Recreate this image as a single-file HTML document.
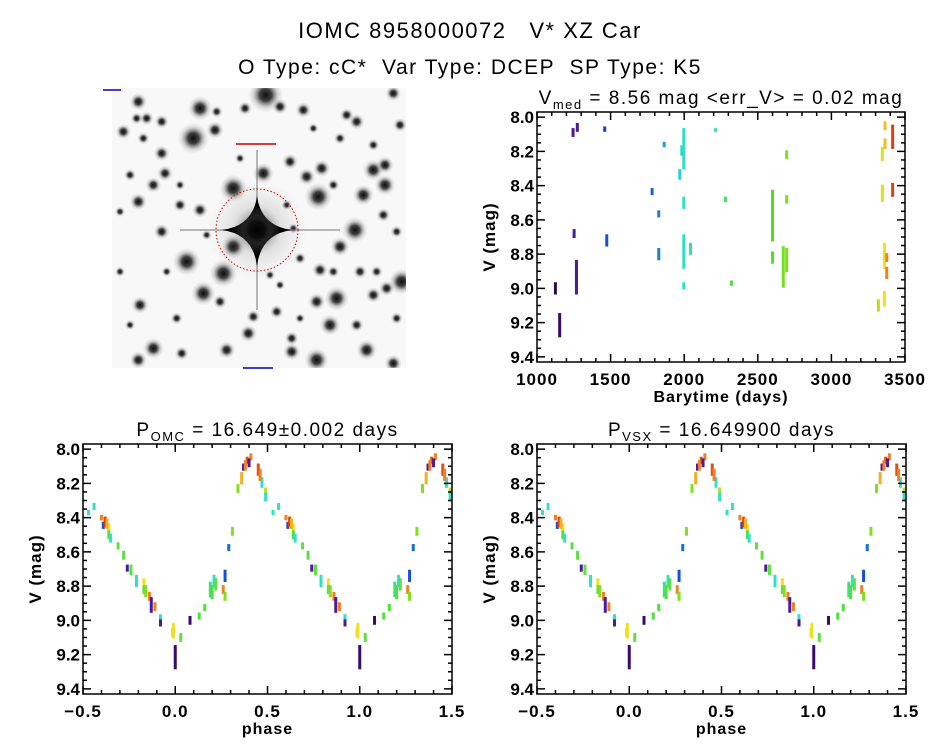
<!DOCTYPE html>
<html><head><meta charset="utf-8"><style>
html,body{margin:0;padding:0;background:#fff;}
svg{display:block;font-family:"Liberation Sans",sans-serif;}
text{fill:#000;}
.tk{font-weight:bold;}
</style></head><body>
<svg id="s" width="944" height="747" viewBox="0 0 944 747" xmlns="http://www.w3.org/2000/svg">
<defs>
<radialGradient id="blob"><stop offset="0" stop-color="#000" stop-opacity="0.95"/><stop offset="0.35" stop-color="#111" stop-opacity="0.8"/><stop offset="0.7" stop-color="#666" stop-opacity="0.25"/><stop offset="1" stop-color="#999" stop-opacity="0"/></radialGradient>
<radialGradient id="halo"><stop offset="0" stop-color="#000" stop-opacity="0.5"/><stop offset="1" stop-color="#888" stop-opacity="0"/></radialGradient>
</defs>
<text x="470" y="38" font-size="22" letter-spacing="1.5" text-anchor="middle" xml:space="preserve">IOMC 8958000072   V* XZ Car</text>
<text x="470" y="74" font-size="21" letter-spacing="1.5" text-anchor="middle" xml:space="preserve">O Type: cC*  Var Type: DCEP  SP Type: K5</text>
<g id="img">
<rect x="112" y="88" width="294" height="280" fill="#f8f8f8"/>
</g>
<g id="p1"></g>
<g id="p2"></g>
<g id="p3"></g>
</svg>
<script>
// ---- data ----
const lcTimes = [1125,1154,1245,1274,1252,1268,1460,1474,1782,1827,1827,1864,1970,1984,1997,1997,1997,1997,2043,2213,2280,2321,2600,2600,2673,2696,2696,2696,3319,3346,3346,3360,3360,3364,3364,3376,3376,3416,3416];
const lcMagLo = [8.97,9.15,8.07,8.04,8.66,8.84,8.06,8.69,8.42,8.55,8.77,8.15,8.31,8.17,8.07,8.47,8.69,8.97,8.74,8.07,8.47,8.96,8.43,8.79,8.76,8.20,8.46,8.77,9.07,8.18,8.40,9.02,8.74,8.03,8.13,8.80,8.88,8.05,8.39];
const lcMagHi = [9.03,9.28,8.11,8.08,8.70,9.03,8.08,8.75,8.45,8.58,8.83,8.17,8.36,8.22,8.30,8.53,8.88,9.00,8.80,8.08,8.49,8.98,8.72,8.85,8.99,8.24,8.50,8.90,9.13,8.25,8.49,9.10,8.88,8.07,8.18,8.84,8.94,8.18,8.46];
const lcColors = ['#2a0a50','#3a0a6a','#4a1a9a','#4a1a9a','#4a1a9a','#4a1a9a','#1a3fd0','#1a50d0','#1a60d0','#1a80d0','#1a80d0','#1aa0d8','#20d0e0','#20d8d0','#30e0c8','#30e0c8','#30e0c8','#30e0c8','#30e0b0','#40e090','#40e060','#50e040','#50e020','#50e020','#70e020','#80e020','#80e020','#80e020','#b0e020','#d8e020','#d8e020','#f0e020','#f0e020','#f0c020','#f0c020','#f08020','#f08020','#e04010','#e04010'];
const phPhase = [0.0,0.99,0.03,0.08,0.13,0.16,0.19,0.21,0.26,0.27,0.27,0.29,0.31,0.34,0.36,0.37,0.39,0.41,0.45,0.47,0.49,0.49,0.53,0.56,0.60,0.61,0.62,0.64,0.64,0.65,0.69,0.72,0.74,0.76,0.79,0.83,0.83,0.86,0.87,0.89,0.92,0.92,0.985,0.2,0.22,0.38,0.40,0.46,0.63,0.84];
const phMagLo = [9.15,9.02,9.08,8.98,8.96,8.91,8.78,8.74,8.80,8.84,8.71,8.56,8.46,8.21,8.14,8.09,8.05,8.03,8.09,8.17,8.23,8.26,8.36,8.32,8.39,8.43,8.40,8.44,8.48,8.50,8.55,8.60,8.68,8.68,8.74,8.76,8.80,8.84,8.87,8.90,8.97,9.00,9.05,8.80,8.76,8.07,8.06,8.12,8.41,8.80];
const phMagHi = [9.28,9.10,9.12,9.02,8.99,8.94,8.86,8.80,8.84,8.88,8.77,8.59,8.50,8.25,8.20,8.12,8.08,8.06,8.15,8.22,8.26,8.30,8.38,8.35,8.41,8.46,8.45,8.47,8.52,8.54,8.58,8.64,8.71,8.73,8.80,8.79,8.84,8.88,8.95,8.94,8.99,9.03,9.09,8.87,8.82,8.12,8.10,8.18,8.46,8.86];
const phColors = ['#3a0a6a','#f0e020','#60e040','#3a0a6a','#50e040','#50e040','#40e080','#30e0c8','#f08020','#80e020','#1a50d0','#1a70d0','#80e020','#80e020','#f0b020','#4a1a9a','#e05010','#f08020','#e05010','#30e0c8','#b0e020','#30e0c8','#30e0c8','#30e0c8','#f08020','#1a50d0','#e04010','#f0e020','#50e040','#30e0c8','#60e040','#60e040','#4a1a9a','#60e040','#30e0c8','#f0e020','#60e040','#f08020','#4a1a9a','#f08020','#30e0c8','#4a1a9a','#f0e020','#50e040','#60e040','#f08020','#4a1a9a','#f08020','#f0b020','#80e020'];
const blobs = [[497,30,20],[300,70,14],[345,135,10],[280,160,18],[115,50,10],[70,140,9],[185,205,9],[195,265,9],[115,350,10],[185,440,9],[260,530,16],[370,565,16],[400,485,14],[400,310,16],[490,265,12],[570,230,9],[620,275,10],[655,335,16],[665,250,10],[765,435,15],[720,485,11],[790,330,12],[855,300,12],[820,255,12],[855,240,10],[770,110,9],[905,590,15],[860,610,9],[710,640,14],[650,650,10],[690,720,12],[820,630,9],[800,795,12],[650,825,14],[575,800,10],[445,745,10],[380,795,10],[160,790,12],[115,825,10],[245,805,8],[310,625,14],[120,660,10],[300,375,9],[240,360,8],[460,695,8],[530,680,8],[575,760,8],[780,560,8],[740,90,8],[610,75,9],[540,65,9],[435,70,8],[185,110,8],[140,100,8],[880,25,9],[850,390,8],[660,555,9],[360,650,8],[880,835,10],[130,160,7],[240,300,6],[720,160,7],[560,360,6],[600,520,7],[450,870,6],[160,300,9],[110,100,7],[350,80,7],[640,130,6],[700,300,7],[890,440,7],[830,560,7],[60,560,6],[230,700,7],[540,600,6],[770,720,8],[890,700,7],[60,380,6],[420,220,6],[580,430,6],[320,450,6],[90,720,6],[200,560,6],[700,560,7],[600,700,6],[510,570,6],[90,270,7],[820,180,7],[900,120,8]];

const NS='http://www.w3.org/2000/svg';
function mk(parent,tag,attrs){const e=document.createElementNS(NS,tag);for(const k in attrs)e.setAttribute(k,attrs[k]);parent.appendChild(e);return e;}

// sky image
const img=document.getElementById('img');
const icl=mk(img,'clipPath',{id:'imgc'});mk(icl,'rect',{x:112,y:88,width:294,height:280});
const ig=mk(img,'g',{'clip-path':'url(#imgc)'});
blobs.forEach(b=>{
  const c=mk(ig,'circle',{cx:100+b[0]/3,cy:85+b[1]/3,r:b[2]/3*2.6,fill:'url(#blob)'});
  
  
});
mk(ig,'circle',{cx:257,cy:230,r:50,fill:'url(#halo)',opacity:0.5});
mk(ig,'line',{x1:180,y1:230,x2:340,y2:230,stroke:'#777','stroke-width':2,opacity:0.5});
mk(ig,'line',{x1:257,y1:150,x2:257,y2:310,stroke:'#777','stroke-width':2,opacity:0.5});
mk(ig,'path',{d:'M257 196 Q261 226 292 230 Q261 234 257 266 Q253 234 222 230 Q253 226 257 196Z',fill:'#000'});
mk(ig,'circle',{cx:257,cy:230,r:24,fill:'url(#blob)'});
const tc=mk(img,'circle',{cx:257,cy:230,r:41,fill:'none',stroke:'#c00','stroke-width':1,'stroke-dasharray':'1.5 2'});


mk(img,'rect',{x:236,y:143,width:40,height:2,fill:'#d04040'});
mk(img,'rect',{x:243,y:367,width:30,height:2,fill:'#4040c0'});
mk(img,'rect',{x:103,y:89,width:18,height:2,fill:'#4040c0'});

function panel(gid,box,xr,yr,xMajor,xMinor,yMajor,yMinor,xFmt,title,xlabel){
  const g=document.getElementById(gid);
  const [x0,y0,x1,y1]=box;
  const X=v=>x0+(v-xr[0])/(xr[1]-xr[0])*(x1-x0);
  const Y=v=>y0+(v-yr[0])/(yr[1]-yr[0])*(y1-y0);
  const cl=mk(g,'clipPath',{id:gid+'c'});mk(cl,'rect',{x:x0,y:y0,width:x1-x0,height:y1-y0});
  const marks=mk(g,'g',{'clip-path':'url(#'+gid+'c)'});
  mk(g,'rect',{x:x0,y:y0,width:x1-x0,height:y1-y0,fill:'none',stroke:'#000','stroke-width':1.5});
  const start=Math.ceil(xr[0]/xMinor-1e-6);
  for(let i=start;i*xMinor<=xr[1]+1e-9;i++){const v=i*xMinor;const maj=Math.abs(v/xMajor-Math.round(v/xMajor))<1e-6;const L=maj?8:4;const x=X(v);
    mk(g,'line',{x1:x,y1:y1,x2:x,y2:y1-L,stroke:'#000','stroke-width':1.5});mk(g,'line',{x1:x,y1:y0,x2:x,y2:y0+L,stroke:'#000','stroke-width':1.5});
    if(maj){const t=mk(g,'text',{x:x,y:y1+23,'font-size':17,'text-anchor':'middle',class:'tk','letter-spacing':1});t.textContent=xFmt(v);}}
  const ys=Math.ceil(yr[0]/yMinor-1e-6);
  for(let i=ys;i*yMinor<=yr[1]+1e-9;i++){const v=i*yMinor;const maj=Math.abs(v/yMajor-Math.round(v/yMajor))<1e-6;const L=maj?8:4;const y=Y(v);
    mk(g,'line',{x1:x0,y1:y,x2:x0+L,y2:y,stroke:'#000','stroke-width':1.5});mk(g,'line',{x1:x1,y1:y,x2:x1-L,y2:y,stroke:'#000','stroke-width':1.5});
    if(maj){const t=mk(g,'text',{x:x0-3,y:y+6,'font-size':17,'text-anchor':'end',class:'tk'});t.textContent=v.toFixed(1);}}
  const yl=mk(g,'text',{x:0,y:0,'font-size':17,'text-anchor':'middle',class:'tk','letter-spacing':1,transform:`translate(${x0-42},${(y0+y1)/2}) rotate(-90)`});yl.textContent='V (mag)';
  
  const xl=mk(g,'text',{x:(x0+x1)/2,y:y1+40,'font-size':16,'text-anchor':'middle',class:'tk','letter-spacing':1});xl.textContent=xlabel;
  
  const tt=mk(g,'text',{x:(x0+x1)/2,y:y0-8,'font-size':19,'text-anchor':'middle','letter-spacing':1.5});tt.innerHTML=title;
  
  return {X,Y,marks};
}
function bar(p,x,lo,hi,c){
  const r=mk(p.marks,'rect',{x:p.X(x)-1.5,y:p.Y(lo)-1,width:3,height:Math.max(2,p.Y(hi)-p.Y(lo)+2),fill:c});
  
  
}
const p1=panel('p1',[537,112,905,362],[1000,3500],[7.97,9.43],500,100,0.2,0.05,v=>String(v),
  'V<tspan font-size="13" dy="5">med</tspan><tspan dy="-5" xml:space="preserve"> = 8.56 mag &lt;err_V&gt; = 0.02 mag</tspan>','Barytime (days)');
lcTimes.forEach((t,i)=>bar(p1,t,lcMagLo[i],lcMagHi[i],lcColors[i]));
const fmt=v=>(Math.abs(v)<1e-9?0:v).toFixed(1).replace('-','\u2212');
const p2=panel('p2',[83,444,452,694],[-0.5,1.5],[7.97,9.43],0.5,0.1,0.2,0.05,fmt,
  'P<tspan font-size="13" dy="5">OMC</tspan><tspan dy="-5"> = 16.649±0.002 days</tspan>','phase');
const p3=panel('p3',[537,444,906,694],[-0.5,1.5],[7.97,9.43],0.5,0.1,0.2,0.05,fmt,
  'P<tspan font-size="13" dy="5">VSX</tspan><tspan dy="-5"> = 16.649900 days</tspan>','phase');
[p2,p3].forEach(p=>{[-1,0,1].forEach(k=>phPhase.forEach((ph,i)=>{const x=ph+k;if(x>=-0.52&&x<=1.52)bar(p,x,phMagLo[i],phMagHi[i],phColors[i]);}));});
</script>
</body></html>
